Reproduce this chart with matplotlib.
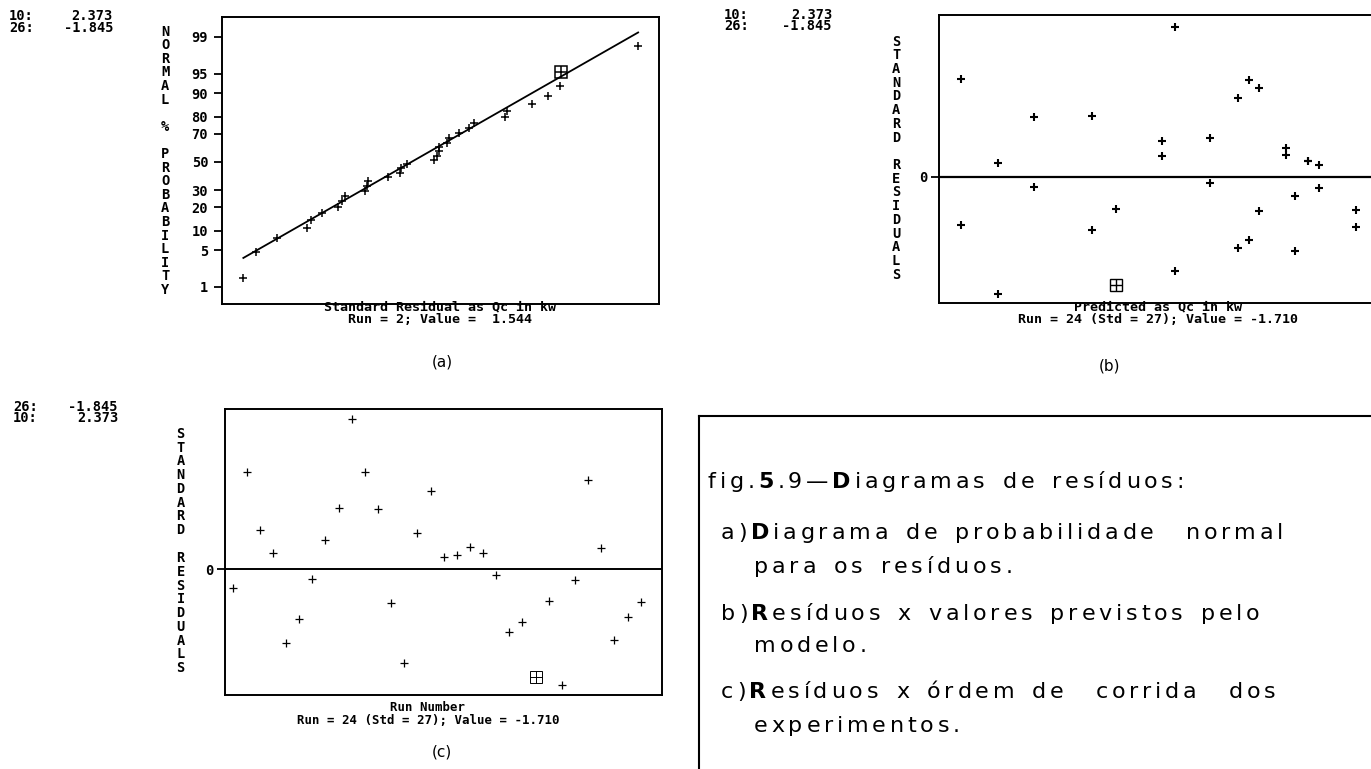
import numpy as np
import matplotlib
matplotlib.use("Agg")
import matplotlib.pyplot as plt
from matplotlib.ticker import FixedLocator, NullLocator
from statistics import NormalDist

plt.rcParams['font.family'] = 'DejaVu Sans Mono'
plt.rcParams['font.weight'] = 'bold'

# standardized residuals, in run order (runs 1..32)
runs = np.arange(1, 33)
resid = [-0.296, 1.544, 0.618, 0.249, -1.168, -0.788, -0.163, 0.460, 0.971, 2.373,
         1.537, 0.946, -0.544, -1.485, 0.566, 1.241, 0.195, 0.222, 0.353, 0.249,
         -0.100, -1.003, -0.835, -1.710, -0.512, -1.845, -0.174, 1.410, 0.333, -1.125,
         -0.756, -0.528]
# predicted Qc (kw) for each run
predicted = [39.5, 6.1, 31.0, 40.8, 39.5, 45.6, 13.4, 38.6, 19.2, 27.5,
             34.9, 13.4, 35.9, 27.5, 26.2, 33.8, 41.9, 9.8, 38.6, 40.8,
             31.0, 34.9, 19.2, 21.6, 21.6, 9.8, 41.9, 35.9, 26.2, 33.8,
             6.1, 45.6]
sel_a = 2      # run picked on the probability plot
sel_bc = 24    # run picked on the residual plots

# fitted line on the normal plot (residual, % probability)
line_x = [-1.845, 2.373]
line_p = [3.7, 99.2]
prob_ticks = [1, 5, 10, 20, 30, 50, 70, 80, 90, 95, 99]

hdr_a = [("10:", "2.373"), ("26:", "-1.845")]
hdr_c = [("26:", "-1.845"), ("10:", "2.373")]

W, H = 1371, 769
fig = plt.figure(figsize=(W / 100, H / 100), dpi=100)
fig.patch.set_facecolor('white')


def rect(l, t, r, b):
    return [l / W, 1 - b / H, (r - l) / W, (b - t) / H]


def ftext(x, y, s, **kw):
    kw.setdefault('va', 'center')
    return fig.text(x / W, 1 - y / H, s, **kw)


def vlabel(x, y0, dy, s, size=9.8):
    for i, ch in enumerate(s):
        if ch != ' ':
            ftext(x, y0 + i * dy, ch, ha='center', fontsize=size)


def header(xl, xr, y0, rows, size=9.8):
    for i, (k, v) in enumerate(rows):
        ftext(xl, y0 + i * 11.5, k, ha='left', fontsize=size)
        ftext(xr, y0 + i * 11.5, v, ha='right', fontsize=size)


def style(ax):
    for sp in ax.spines.values():
        sp.set_linewidth(1.4)
    ax.set_xticks([])
    ax.tick_params(axis='y', direction='out', length=5.5, width=1.3,
                   pad=3, labelsize=9.8)


res = np.array(resid)
pred = np.array(predicted)

# (a) normal probability plot
nd = NormalDist()
fwd = np.vectorize(lambda p: nd.inv_cdf(min(max(p / 100, 1e-9), 1 - 1e-9)), otypes=[float])
inv = np.vectorize(lambda z: nd.cdf(z) * 100, otypes=[float])

order = np.argsort(res)
sorted_res = res[order]
pp = (np.arange(1, len(res) + 1) - 0.5) / len(res) * 100
sel_rank = np.where(runs[order] == sel_a)[0][0]

ax_a = fig.add_axes(rect(222, 17, 659, 304))
ax_a.set_yscale('function', functions=(fwd, inv))
ax_a.plot(line_x, line_p, color='k', lw=1.3)
mask = np.arange(len(res)) != sel_rank
ax_a.plot(sorted_res[mask], pp[mask], '+', color='k', ms=6, mew=1.1)
for m in ('s', '+'):
    ax_a.plot(sorted_res[sel_rank], pp[sel_rank], marker=m, ms=8.5, mfc='none',
              mec='k', mew=1.1, ls='none')
ax_a.set_xlim(-2.073, 2.596)
ax_a.set_ylim(0.41, 99.65)
ax_a.yaxis.set_major_locator(FixedLocator(prob_ticks))
ax_a.yaxis.set_minor_locator(NullLocator())
ax_a.set_yticklabels([str(t) for t in prob_ticks])
style(ax_a)
ax_a.tick_params(axis='y', length=6, pad=4)

vlabel(165, 31.7, 13.6, "NORMAL % PROBABILITY")
header(9, 113, 16, hdr_a)
ftext(440.5, 313, "Standard Residual as Qc in kw\nRun = 2; Value =  1.544",
      ha='center', multialignment='center', fontsize=9.6, linespacing=0.95)
ftext(442, 362, "(a)", ha='center', fontsize=11, family='DejaVu Sans', weight='normal')

# (b) residuals vs predicted
sel = runs == sel_bc
ax_b = fig.add_axes(rect(939, 15, 1375, 303))
ax_b.axhline(0, color='k', lw=1.6)
ax_b.plot(pred[~sel], res[~sel], '+', color='k', ms=6.2, mew=1.5)
for m in ('s', '+'):
    ax_b.plot(pred[sel], res[sel], marker=m, ms=8, mfc='none', mec='k', mew=1.0, ls='none')
ax_b.set_xlim(3.9, 47.5)
ax_b.set_ylim(-1.991, 2.559)
ax_b.set_yticks([0])
ax_b.set_yticklabels(["0"])
style(ax_b)
ax_b.spines['right'].set_visible(False)

vlabel(896, 41.7, 13.7, "STANDARD RESIDUALS")
header(724, 832, 15, hdr_a)
ftext(1158, 313, "Predicted as Qc in kw\nRun = 24 (Std = 27); Value = -1.710",
      ha='center', multialignment='center', fontsize=9.6, linespacing=0.95)
ftext(1110, 366, "(b)", ha='center', fontsize=11, family='DejaVu Sans', weight='normal')

# (c) residuals vs run number
ax_c = fig.add_axes(rect(225, 409, 662, 695))
ax_c.axhline(0, color='k', lw=1.4)
ax_c.plot(runs[~sel], res[~sel], '+', color='k', ms=6.2, mew=0.9)
for m in ('s', '+'):
    ax_c.plot(runs[sel], res[sel], marker=m, ms=8, mfc='none', mec='k', mew=0.7, ls='none')
ax_c.set_xlim(0.353, 33.62)
ax_c.set_ylim(-1.997, 2.536)
ax_c.set_yticks([0])
ax_c.set_yticklabels(["0"])
style(ax_c)

vlabel(180.7, 433.7, 13.8, "STANDARD RESIDUALS")
header(13, 118, 407, hdr_c)
ftext(428, 714, "Run Number\nRun = 24 (Std = 27); Value = -1.710",
      ha='center', multialignment='center', fontsize=8.9, linespacing=1.0)
ftext(442, 752, "(c)", ha='center', fontsize=11, family='DejaVu Sans', weight='normal')

# caption box on the lower right
fig.add_artist(plt.Line2D([699 / W, 1], [1 - 416 / H] * 2, color='k', lw=1.5))
fig.add_artist(plt.Line2D([699 / W] * 2, [1 - 416 / H, 0], color='k', lw=1.5))

caption = [
    (707.7, 488, "fig.5.9—Diagramas de resíduos:", {4, 8}),
    (721, 539, "a)Diagrama de probabilidade  normal", {2}),
    (754, 573, "para os resíduos.", set()),
    (721, 620, "b)Resíduos x valores previstos pelo", {2}),
    (754, 652, "modelo.", set()),
    (721, 698, "c)Resíduos x órdem de  corrida  dos", {2}),
    (754, 732, "experimentos.", set()),
]
track = 3.8
renderer = fig.canvas.get_renderer()
for x, y, s, bold in caption:
    for i, ch in enumerate(s):
        if ch == ' ':
            x += 14
            continue
        t = ftext(x, y, ch, ha='left', va='baseline', fontsize=16, family='DejaVu Sans',
                  weight='bold' if i in bold else 'normal')
        x += t.get_window_extent(renderer).width + track

fig.savefig("out.png", dpi=100, facecolor='white')
